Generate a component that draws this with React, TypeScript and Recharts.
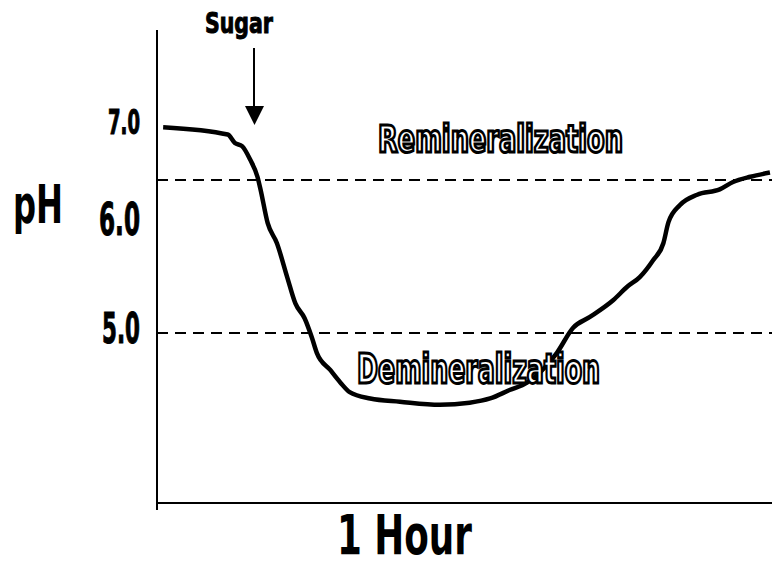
import React from 'react';
import { LineChart, Line, XAxis, YAxis, ReferenceLine } from 'recharts';

// minutes after the start
const minutes = [
  0.6, 6.9, 7.6, 8.3, 9.1, 9.8, 10.1, 10.8, 11.7, 12.7, 13.5, 14.4, 15.1, 15.6, 16.9,
  17.9, 18.8, 20.8, 23.7, 27.6, 30.5, 32.5, 34.4, 36.1, 37.9, 39.0, 40.6, 42.2, 44.5,
  45.9, 47.1, 48.4, 49.4, 49.9, 51.0, 52.7, 54.9, 56.2, 57.9, 59.8,
];
const phValues = [
  6.95, 6.88, 6.8, 6.77, 6.64, 6.48, 6.36, 6.04, 5.85, 5.53, 5.28, 5.14, 4.96, 4.81, 4.65,
  4.53, 4.44, 4.38, 4.35, 4.32, 4.34, 4.38, 4.46, 4.53, 4.68, 4.81, 5.05, 5.15, 5.31,
  5.44, 5.53, 5.69, 5.85, 6.05, 6.21, 6.31, 6.36, 6.43, 6.48, 6.52,
];
const yTicks = [7, 6, 5];
const yTickLabels = ['7.0', '6.0', '5.0'];
const thresholds = [6.45, 5.0];

const data = minutes.map((t, i) => ({ t, ph: phValues[i] }));

const FONT = "'Liberation Sans Narrow', 'DejaVu Sans Condensed', 'Liberation Sans', sans-serif";

// the hand-lettered tick labels are not all the same size
const tickLook: Record<number, { size: number; width: number; dy: number }> = {
  7: { size: 33, width: 32, dy: 12 },
  6: { size: 44, width: 41, dy: 8 },
  5: { size: 42, width: 38, dy: 10 },
};

const YTick = ({ y, payload }: any) => {
  const look = tickLook[payload.value];
  const i = yTicks.indexOf(payload.value);
  return (
    <text
      x={140}
      y={y + look.dy}
      textAnchor="end"
      fontFamily={FONT}
      fontWeight="bold"
      fontSize={look.size}
      textLength={look.width}
      lengthAdjust="spacingAndGlyphs"
      fill="#000"
      stroke="#000"
      strokeWidth={1}
    >
      {yTickLabels[i]}
    </text>
  );
};

const App = () => {
  return (
    <div style={{ position: 'absolute', left: 0, top: 0, width: 775, height: 568, background: '#fff' }}>
      <LineChart width={775} height={568} data={data} margin={{ top: 30, right: 3, bottom: 58, left: 0 }}>
        <XAxis
          dataKey="t"
          type="number"
          domain={[0, 60]}
          ticks={[0]}
          tickFormatter={() => ''}
          tickSize={7}
          height={7}
          axisLine={{ stroke: '#000', strokeWidth: 2 }}
          tickLine={{ stroke: '#000', strokeWidth: 2 }}
        />
        <YAxis
          type="number"
          domain={[3.39, 7.87]}
          ticks={yTicks}
          width={157}
          tickLine={false}
          tick={<YTick />}
          axisLine={{ stroke: '#000', strokeWidth: 2 }}
        />
        {thresholds.map((v) => (
          <ReferenceLine key={v} y={v} stroke="#000" strokeWidth={2} strokeDasharray="11 7" />
        ))}
        <Line
          type="monotone"
          dataKey="ph"
          stroke="#000"
          strokeWidth={4.5}
          dot={false}
          isAnimationActive={false}
        />
      </LineChart>
      <svg width={775} height={568} style={{ position: 'absolute', left: 0, top: 0, pointerEvents: 'none' }}>
        <g fontFamily={FONT} fontWeight="bold">
          <text x={205} y={33} fontSize={29} textLength={68} lengthAdjust="spacingAndGlyphs" stroke="#000" strokeWidth={1}>Sugar</text>
          <line x1={254} y1={48} x2={254} y2={110} stroke="#000" strokeWidth={2} />
          <polygon points="245,106 264,106 254.5,125" fill="#000" />
          <text x={378} y={152} fontSize={37} textLength={245} lengthAdjust="spacingAndGlyphs" fill="#fff" stroke="#000" strokeWidth={3}>
            Remineralization
          </text>
          <text x={357} y={383} fontSize={40} textLength={243} lengthAdjust="spacingAndGlyphs" fill="#fff" stroke="#000" strokeWidth={3}>
            Demineralization
          </text>
          <text x={13} y={223} fontSize={54} textLength={50} lengthAdjust="spacingAndGlyphs">pH</text>
          <text x={337} y={554} fontSize={56} textLength={135} lengthAdjust="spacingAndGlyphs">1 Hour</text>
        </g>
      </svg>
    </div>
  );
};

export default App;
